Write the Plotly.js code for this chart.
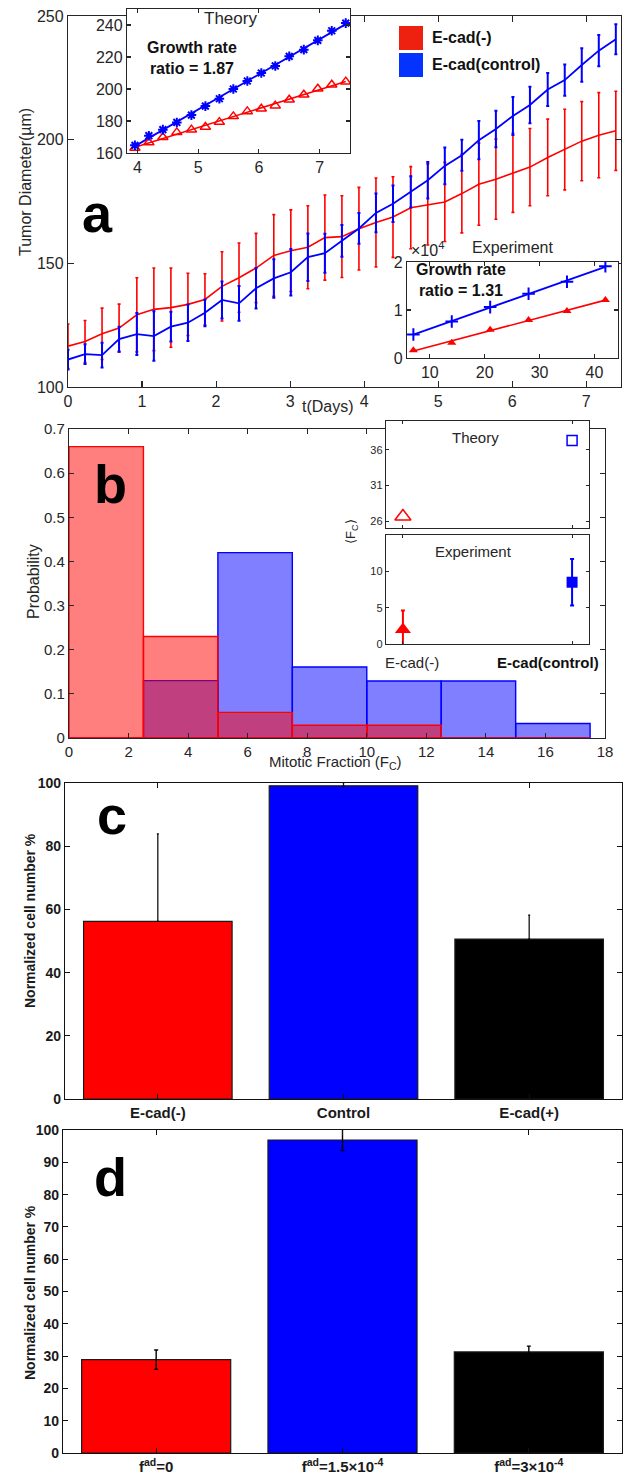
<!DOCTYPE html>
<html><head><meta charset="utf-8">
<script src="https://cdn.plot.ly/plotly-3.0.1.min.js"></script>
<style>html,body{margin:0;padding:0;background:#fff}#chart{width:624px;height:1478px}</style>
</head><body><div id="chart"></div>
<script>
// ---------------- DATA ----------------
// Panel a: tumor diameter vs time
const tDays = [0,0.23,0.46,0.69,0.93,1.16,1.39,1.62,1.85,2.08,2.31,2.54,2.78,3.01,3.24,3.47,3.70,3.93,4.16,4.39,4.63,4.86,5.09,5.32,5.55,5.78,6.01,6.24,6.48,6.71,6.94,7.17,7.40];
const diamNeg = [116.5,118.4,121.5,123.8,129.2,131.4,132.1,133.4,135.4,140.7,144.2,148.1,153.2,155.1,156.5,160.4,160.8,164.0,166.5,168.7,172.5,173.8,174.8,178.2,182.0,184.0,186.6,188.9,192.8,196.0,199.4,201.8,203.6];
const diamNegErr = [9,8.5,10.4,9.7,15,16.7,16,12.6,10.4,14,14,14,16.5,16.5,16.8,17.2,16.5,16.7,18,16.3,16.6,16.4,16,15.9,16.6,16.2,16,15.6,15.5,16.3,16,17.2,16];
const diamCtrl = [111.1,113.3,112.9,119.4,121.4,120.6,124.4,126.0,130.0,135.2,133.8,139.9,143.9,146.4,152.5,154.1,159.1,164.1,170.4,174.1,178.9,183.6,189.4,193.7,199.8,204.3,209.6,214.0,220.3,224.1,230.2,236.0,240.6];
const diamCtrlErr = [4,4,5,5,8.5,10,6,7.4,5.4,7.5,7,8.2,7.8,9.4,9.6,7.9,6.4,6.2,7.8,7.4,6.3,7.4,7.4,6.3,7.7,7.4,7.7,7.4,6.7,6.3,6.8,6.3,6.1];
// Panel a inset: theory
const theoryT = [3.96,4.19,4.42,4.65,4.89,5.12,5.35,5.58,5.81,6.04,6.27,6.50,6.74,6.97,7.20,7.43];
const theoryCtrl = [164.8,170.8,174.6,179.1,183.7,189.3,193.9,200.0,205.0,210.0,214.4,220.4,224.6,230.4,236.4,241.2];
const theoryNeg = [163.1,166.6,169.8,172.9,174.6,176.3,179.3,182.9,186.0,187.7,189.6,193.3,196.4,200.2,202.7,204.6];
// Panel a inset: experiment (x10^4)
const expDays = [7,14,21,28,35,42];
const expCtrl = [0.49,0.76,1.06,1.34,1.59,1.91];
const expNeg = [0.16,0.32,0.59,0.79,0.98,1.21];
// Panel b: mitotic fraction histogram
const binEdges = [0,2.5,5,7.5,10,12.5,15,17.5];
const probNeg = [0.66,0.23,0.058,0.029,0.029,0,0];
const probCtrl = [0,0.13,0.42,0.161,0.129,0.129,0.033];
// Panel b insets
const fcGroups = [1,2];
const fcTheory = [26.7,37.3];
const fcExp = [2.0,8.5];
const fcExpErr = [2.6,3.2];
// Panel c
const cCats = ['E-cad(-)','Control','E-cad(+)'];
const cVals = [56.2,99.1,50.6];
const cErr = [27.7,1.0,7.6];
// Panel d
const dCats = ['f<sup>ad</sup>=0','f<sup>ad</sup>=1.5×10<sup>-4</sup>','f<sup>ad</sup>=3×10<sup>-4</sup>'];
const dVals = [28.9,96.9,31.3];
const dErr = [3.0,3.3,1.8];
const barColors = ['#FF0000','#0000FF','#000000'];

// ---------------- HELPERS ----------------
const W = 624, H = 1478;
const F = 'Liberation Sans, Arial, Helvetica, sans-serif';
const GR = '#262626';
const px = v => v / W;
const py = v => 1 - v / H;
function fit(x, y) {
  const n = x.length; let sx=0, sy=0, sxx=0, sxy=0;
  for (let i=0;i<n;i++){sx+=x[i];sy+=y[i];sxx+=x[i]*x[i];sxy+=x[i]*y[i];}
  const b = (n*sxy - sx*sy)/(n*sxx - sx*sx); const a = (sy - b*sx)/n;
  const xs = [x[0], x[n-1]];
  return {x: xs, y: xs.map(v => a + b*v)};
}
function ax(x0, x1, range, extra, dir) {
  return Object.assign({
    domain: dir === 'x' ? [px(x0), px(x1)] : [py(x1), py(x0)],
    range: range, showline: true, linecolor: GR, linewidth: 1.2, mirror: 'ticks',
    ticks: 'inside', ticklen: 5, tickwidth: 1.1, tickcolor: GR,
    showgrid: false, zeroline: false, fixedrange: true,
    tickfont: {family: F, size: 15, color: GR}
  }, extra || {});
}
const binCenters = binEdges.slice(0,-1).map((e,i)=> (e + binEdges[i+1]) / 2);
const binWidths = binEdges.slice(0,-1).map((e,i)=> binEdges[i+1] - e);

// ---------------- TRACES ----------------
const traces = [];
// a main
traces.push({x: tDays, y: diamNeg, type:'scatter', mode:'lines', xaxis:'x', yaxis:'y',
  line:{color:'#FF0000', width:1.6},
  error_y:{type:'data', array: diamNegErr, visible:true, color:'#FF0000', thickness:1.6, width:1.5}});
traces.push({x: tDays, y: diamCtrl, type:'scatter', mode:'lines', xaxis:'x', yaxis:'y',
  line:{color:'#0000FF', width:1.8},
  error_y:{type:'data', array: diamCtrlErr, visible:true, color:'#0000FF', thickness:2, width:1.5}});
// a theory inset
const fT1 = fit(theoryT, theoryCtrl), fT2 = fit(theoryT, theoryNeg);
traces.push({x: fT2.x, y: fT2.y, type:'scatter', mode:'lines', xaxis:'x2', yaxis:'y2', line:{color:'#FF0000', width:1.6}});
traces.push({x: fT1.x, y: fT1.y, type:'scatter', mode:'lines', xaxis:'x2', yaxis:'y2', line:{color:'#0000FF', width:1.8}});
traces.push({x: theoryT, y: theoryNeg, type:'scatter', mode:'markers', xaxis:'x2', yaxis:'y2',
  marker:{symbol:'triangle-up-open', size:9, color:'#FF0000', line:{color:'#FF0000', width:1.5}}});
traces.push({x: theoryT, y: theoryCtrl, type:'scatter', mode:'markers', xaxis:'x2', yaxis:'y2',
  marker:{symbol:'asterisk-open', size:8, color:'#0000FF', line:{color:'#0000FF', width:2}}});
// a experiment inset
const fE1 = fit(expDays, expCtrl), fE2 = fit(expDays, expNeg);
traces.push({x: fE2.x, y: fE2.y, type:'scatter', mode:'lines', xaxis:'x3', yaxis:'y3', line:{color:'#FF0000', width:1.6}});
traces.push({x: fE1.x, y: fE1.y, type:'scatter', mode:'lines', xaxis:'x3', yaxis:'y3', line:{color:'#0000FF', width:1.8}});
traces.push({x: expDays, y: expNeg, type:'scatter', mode:'markers', xaxis:'x3', yaxis:'y3',
  marker:{symbol:'triangle-up', size:8, color:'#FF0000'}});
traces.push({x: expDays, y: expCtrl, type:'scatter', mode:'markers', xaxis:'x3', yaxis:'y3',
  marker:{symbol:'cross-thin-open', size:9, color:'#0000FF', line:{color:'#0000FF', width:2}}});
// b histogram
traces.push({x: binCenters, y: probCtrl, width: binWidths, type:'bar', xaxis:'x4', yaxis:'y4',
  marker:{color:'rgba(0,0,255,0.5)', line:{color:'#0000FF', width:1.4}}});
traces.push({x: binCenters, y: probNeg, width: binWidths, type:'bar', xaxis:'x4', yaxis:'y4',
  marker:{color:'rgba(255,0,0,0.5)', line:{color:'#FF0000', width:1.4}}});
// b theory inset
traces.push({x: [fcGroups[0]], y: [fcTheory[0]], type:'scatter', mode:'markers', xaxis:'x5', yaxis:'y5',
  marker:{symbol:'triangle-up-open', size:14, color:'#FF0000', line:{color:'#FF0000', width:1.5}}});
traces.push({x: [fcGroups[1]], y: [fcTheory[1]], type:'scatter', mode:'markers', xaxis:'x5', yaxis:'y5',
  marker:{symbol:'square-open', size:10, color:'#0000FF', line:{color:'#0000FF', width:1.5}}});
// b experiment inset
traces.push({x: [fcGroups[0]], y: [fcExp[0]], type:'scatter', mode:'markers', xaxis:'x6', yaxis:'y6',
  marker:{symbol:'triangle-up', size:14, color:'#FF0000'},
  error_y:{type:'data', array:[fcExpErr[0]], visible:true, color:'#FF0000', thickness:2, width:2}});
traces.push({x: [fcGroups[1]], y: [fcExp[1]], type:'scatter', mode:'markers', xaxis:'x6', yaxis:'y6',
  marker:{symbol:'square', size:11, color:'#0000FF'},
  error_y:{type:'data', array:[fcExpErr[1]], visible:true, color:'#0000FF', thickness:2, width:2}});
// c
traces.push({x: cCats, y: cVals, type:'bar', width:0.8, xaxis:'x7', yaxis:'y7',
  marker:{color: barColors, line:{color:'#1a1a1a', width:1.2}},
  error_y:{type:'data', symmetric:false, array:cErr, arrayminus:[0,0,0], visible:true, color:'#000', thickness:1.2, width:1}});
// d
traces.push({x: dCats, y: dVals, type:'bar', width:0.8, xaxis:'x8', yaxis:'y8',
  marker:{color: barColors, line:{color:'#1a1a1a', width:1.2}},
  error_y:{type:'data', array:dErr, visible:true, color:'#000', thickness:1.4, width:2}});

// ---------------- LAYOUT ----------------
const bold = {family:F, size:14, color:'#1a1a1a', weight:'bold'};
const layout = {
  width: W, height: H, margin:{l:0,r:0,t:0,b:0},
  paper_bgcolor:'#fff', plot_bgcolor:'#fff', showlegend:false, barmode:'overlay', hovermode:false,
  font:{family:F, color:GR},
  xaxis: ax(68,621,[0,7.47],{anchor:'y', tickvals:[0,1,2,3,4,5,6,7], ticklen:6, tickfont:{family:F,size:16,color:GR}},'x'),
  yaxis: ax(16,387,[100,250],{anchor:'x', tickvals:[100,150,200,250], ticklen:6, tickfont:{family:F,size:16,color:GR}},'y'),
  xaxis2: ax(127,350,[3.83,7.5],{anchor:'y2', tickvals:[4,5,6,7], ticklen:4, tickfont:{family:F,size:16,color:GR}},'x'),
  yaxis2: ax(9,153,[160,250],{anchor:'x2', tickvals:[160,180,200,220,240], ticklen:4, tickfont:{family:F,size:16,color:GR}},'y'),
  xaxis3: ax(407,618,[5.84,44.3],{anchor:'y3', tickvals:[10,20,30,40], ticklen:4, tickfont:{family:F,size:16,color:GR}},'x'),
  yaxis3: ax(262,358,[0,2],{anchor:'x3', tickvals:[0,1,2], ticklen:4, tickfont:{family:F,size:16,color:GR}},'y'),
  xaxis4: ax(69,605,[0,18],{anchor:'y4', dtick:2, tick0:0},'x'),
  yaxis4: ax(429,738,[0,0.7],{anchor:'x4', dtick:0.1, tick0:0, tickformat:'.1~f'},'y'),
  xaxis5: ax(386,589,[0.9,2.1],{anchor:'y5', tickvals:[1,2], showticklabels:false, ticklen:3},'x'),
  yaxis5: ax(421,528,[25.1,40],{anchor:'x5', tickvals:[26,31,36], ticklen:3, tickfont:{family:F,size:11,color:GR}},'y'),
  xaxis6: ax(386,589,[0.9,2.1],{anchor:'y6', tickvals:[1,2], showticklabels:false, ticklen:3},'x'),
  yaxis6: ax(535,644,[0,15],{anchor:'x6', tickvals:[0,5,10], ticklen:3, tickfont:{family:F,size:11,color:GR}},'y'),
  xaxis7: ax(65,622,[-0.5,2.5],{anchor:'y7', type:'category', linecolor:'#111', tickcolor:'#111', tickfont:{family:F,size:15,color:'#1a1a1a',weight:'bold'}},'x'),
  yaxis7: ax(783,1099,[0,100],{anchor:'x7', dtick:20, linecolor:'#111', tickcolor:'#111', tickfont:bold},'y'),
  xaxis8: ax(63,622,[-0.5,2.5],{anchor:'y8', type:'category', linecolor:'#111', tickcolor:'#111', tickfont:{family:F,size:15,color:'#1a1a1a',weight:'bold'}},'x'),
  yaxis8: ax(1130,1453,[0,100],{anchor:'x8', dtick:10, linecolor:'#111', tickcolor:'#111', tickfont:bold},'y'),
  shapes: [
    {type:'rect', xref:'paper', yref:'paper', x0:px(399), x1:px(423), y0:py(50), y1:py(26), fillcolor:'#EE2010', line:{width:0}},
    {type:'rect', xref:'paper', yref:'paper', x0:px(399), x1:px(423), y0:py(77), y1:py(53), fillcolor:'#0433FF', line:{width:0}}
  ],
  annotations: []
};
function note(text, x, y, opt) {
  layout.annotations.push(Object.assign({text, x:px(x), y:py(y), xref:'paper', yref:'paper', showarrow:false,
    xanchor:'center', yanchor:'middle', font:{family:F, size:15, color:GR}}, opt || {}));
}
const big = {family:F, size:54, color:'#000', weight:'bold'};
// panel a
note('a', 97, 213, {font:big});
note('Tumor Diameter(µm)', 25, 182, {textangle:-90, font:{family:F,size:16,color:GR}});
note('t(Days)', 328, 406, {font:{family:F,size:16,color:GR}});
note('Theory', 230, 18, {font:{family:F,size:17,color:GR}});
note('Growth rate<br>ratio = 1.87', 192, 58, {font:{family:F,size:16,color:'#111',weight:'bold'}});
note('E-cad(-)', 430, 38, {xanchor:'left', font:{family:F,size:16,color:'#111',weight:'bold'}});
note('E-cad(control)', 430, 65, {xanchor:'left', font:{family:F,size:16,color:'#111',weight:'bold'}});
note('Experiment', 512, 247, {font:{family:F,size:16,color:GR}});
note('×10<sup>4</sup>', 409, 249, {xanchor:'left', font:{family:F,size:16,color:GR}});
note('Growth rate<br>ratio = 1.31', 461, 280, {font:{family:F,size:16,color:'#111',weight:'bold'}});
// panel b
note('b', 110, 484, {font:big});
note('Probability', 33, 582, {textangle:-90, font:{family:F,size:16,color:GR}});
note('Mitotic Fraction (F<sub>C</sub>)', 335, 762, {font:{family:F,size:15,color:GR}});
note('Theory', 475, 437, {font:{family:F,size:15,color:GR}});
note('Experiment', 473, 552, {font:{family:F,size:15,color:GR}});
note('⟨F<sub>C</sub>⟩', 352, 532, {textangle:-90, font:{family:F,size:13,color:GR}});
note('E-cad(-)', 412, 662, {font:{family:F,size:15,color:GR}});
note('E-cad(control)', 548, 662, {font:{family:F,size:15,color:'#111',weight:'bold'}});
// panel c
note('c', 112, 815, {font:big});
note('Normalized cell number %', 30, 921, {textangle:-90, font:{family:F,size:14,color:'#1a1a1a',weight:'bold'}});
// panel d
note('d', 110, 1177, {font:big});
note('Normalized cell number %', 30, 1293, {textangle:-90, font:{family:F,size:14,color:'#1a1a1a',weight:'bold'}});

Plotly.newPlot('chart', traces, layout, {staticPlot:true, displayModeBar:false});
</script></body></html>
